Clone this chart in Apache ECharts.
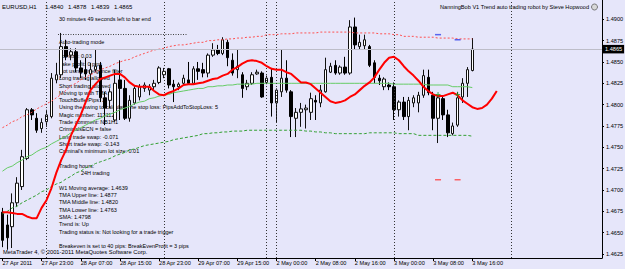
<!DOCTYPE html>
<html><head><meta charset="utf-8">
<script src="https://cdn.jsdelivr.net/npm/echarts@6/dist/echarts.min.js"></script>
<style>html,body{margin:0;padding:0;background:#e6e6fa;}#c{width:625px;height:269px;}</style>
</head><body><div id="c"></div>
<script>
// ---- data ----
const tickLabels = ['27 Apr 2011','27 Apr 23:00','28 Apr 07:00','28 Apr 15:00','28 Apr 23:00','29 Apr 07:00','29 Apr 15:00','2 May 00:00','2 May 08:00','2 May 16:00','3 May 00:00','3 May 08:00','3 May 16:00'];
const barsPerLabel = 8;
const barCount = 123;            // visible bar slots incl. future shift
const separatorBars = [9, 33, 54, 56, 80, 104];
const priceTicks = [1.4625,1.4650,1.4675,1.4700,1.4725,1.4750,1.4775,1.4800,1.4825,1.4850,1.4875,1.4900];
const priceMin = 1.46203, priceMax = 1.49226;
const bidPrice = 1.4865;

const open = [1.4674,1.4659,1.4657,1.4685,1.4704,1.4737,1.4794,1.4784,1.4772,1.4780,
1.4786,1.4829,1.4835,1.4868,1.4858,1.4862,1.4843,1.4841,1.4836,1.4841,
1.4846,1.4808,1.4805,1.4782,1.4829,1.4819,1.4784,1.4802,1.4809,1.4819,
1.4817,1.4821,1.4826,1.4835,1.4842,1.4824,1.4821,1.4825,1.4829,1.4825,
1.4842,1.4841,1.4837,1.4858,1.4864,1.4860,1.4873,1.4852,1.4841,1.4835,
1.4821,1.4825,1.4836,1.4837,1.4826,1.4832,1.4802,1.4815,1.4831,1.4815,
1.4784,1.4791,1.4794,1.4791,1.4805,1.4802,1.4815,1.4838,1.4846,1.4837,
1.4844,1.4837,1.4891,1.4868,1.4869,1.4868,1.4849,1.4831,1.4821,1.4823,
1.4821,1.4794,1.4803,1.4786,1.4802,1.4802,1.4811,1.4832,1.4811,1.4784,
1.4807,1.4788,1.4766,1.4776,1.4809,1.4825,1.4840];
const close = [1.4641,1.4644,1.4685,1.4708,1.4739,1.4794,1.4788,1.4770,1.4779,1.4788,
1.4831,1.4835,1.4868,1.4856,1.4862,1.4843,1.4838,1.4836,1.4841,1.4845,
1.4808,1.4796,1.4815,1.4825,1.4819,1.4784,1.4805,1.4819,1.4821,1.4823,
1.4821,1.4825,1.4843,1.4839,1.4823,1.4821,1.4824,1.4831,1.4825,1.4842,
1.4839,1.4837,1.4858,1.4864,1.4860,1.4876,1.4855,1.4837,1.4845,1.4819,
1.4825,1.4835,1.4838,1.4809,1.4831,1.4802,1.4817,1.4831,1.4817,1.4786,
1.4791,1.4795,1.4796,1.4807,1.4803,1.4817,1.4841,1.4845,1.4837,1.4844,
1.4837,1.4891,1.4870,1.4873,1.4876,1.4846,1.4832,1.4828,1.4830,1.4821,
1.4794,1.4803,1.4786,1.4805,1.4808,1.4811,1.4834,1.4814,1.4784,1.4808,
1.4788,1.4767,1.4775,1.4808,1.4825,1.4841,1.4865];
const high = [1.4679,1.4671,1.4696,1.4715,1.4747,1.4796,1.4796,1.4790,1.4784,1.4794,
1.4837,1.4849,1.4884,1.4876,1.4866,1.4866,1.4852,1.4855,1.4849,1.4864,
1.4850,1.4815,1.4819,1.4841,1.4852,1.4829,1.4811,1.4823,1.4824,1.4826,
1.4824,1.4829,1.4845,1.4843,1.4843,1.4829,1.4826,1.4835,1.4850,1.4845,
1.4850,1.4849,1.4860,1.4872,1.4870,1.4879,1.4876,1.4860,1.4864,1.4838,
1.4829,1.4838,1.4841,1.4839,1.4834,1.4843,1.4819,1.4864,1.4852,1.4817,
1.4796,1.4802,1.4800,1.4814,1.4811,1.4823,1.4855,1.4849,1.4852,1.4846,
1.4856,1.4899,1.4902,1.4882,1.4882,1.4870,1.4852,1.4835,1.4832,1.4826,
1.4826,1.4805,1.4809,1.4809,1.4811,1.4815,1.4841,1.4841,1.4815,1.4811,
1.4811,1.4794,1.4779,1.4815,1.4831,1.4844,1.4878];
const low = [1.4633,1.4630,1.4632,1.4680,1.4700,1.4735,1.4782,1.4767,1.4767,1.4774,
1.4784,1.4825,1.4831,1.4852,1.4852,1.4838,1.4831,1.4829,1.4817,1.4838,
1.4803,1.4776,1.4796,1.4780,1.4782,1.4782,1.4780,1.4800,1.4805,1.4815,
1.4811,1.4817,1.4824,1.4831,1.4819,1.4803,1.4817,1.4822,1.4823,1.4823,
1.4829,1.4832,1.4832,1.4856,1.4858,1.4858,1.4845,1.4834,1.4831,1.4808,
1.4817,1.4823,1.4835,1.4808,1.4824,1.4786,1.4779,1.4809,1.4814,1.4762,
1.4762,1.4774,1.4772,1.4782,1.4782,1.4797,1.4814,1.4837,1.4835,1.4835,
1.4835,1.4835,1.4864,1.4864,1.4864,1.4844,1.4825,1.4823,1.4817,1.4817,
1.4782,1.4786,1.4782,1.4770,1.4797,1.4791,1.4808,1.4811,1.4770,1.4755,
1.4782,1.4762,1.4764,1.4774,1.4802,1.4809,1.4839];

const redLine = [1.4674,1.4674,1.4673,1.4672,1.4672,1.4669,1.4667,1.4667,1.4679,1.4688,
1.4702,1.4720,1.4735,1.4747,1.4764,1.4776,1.4788,1.4803,1.4817,1.4824,
1.4830,1.4832,1.4834,1.4836,1.4836,1.4832,1.4826,1.4822,1.4821,1.4821,
1.4821,1.4816,1.4812,1.4811,1.4814,1.4816,1.4819,1.4823,1.4824,1.4824,
1.4825,1.4826,1.4828,1.4830,1.4831,1.4834,1.4836,1.4841,1.4844,1.4848,
1.4851,1.4852,1.4851,1.4849,1.4845,1.4842,1.4841,1.4841,1.4838,1.4836,
1.4831,1.4826,1.4826,1.4824,1.4819,1.4814,1.4809,1.4804,1.4802,1.4803,
1.4805,1.4809,1.4812,1.4817,1.4822,1.4826,1.4832,1.4841,1.4849,1.4855,
1.4856,1.4852,1.4845,1.4839,1.4834,1.4828,1.4821,1.4816,1.4812,1.4810,
1.4810,1.4812,1.4814,1.4811,1.4805,1.4801,1.4797,1.4795,1.4796,1.4800,
1.4807,1.4816];
const upperBand = [1.4773,1.4776,1.4780,1.4782,1.4786,1.4788,1.4791,1.4795,1.4798,1.4801,
1.4804,1.4808,1.4812,1.4817,1.4822,1.4825,1.4829,1.4832,1.4835,1.4838,
1.4841,1.4843,1.4845,1.4848,1.4850,1.4852,1.4853,1.4856,1.4858,1.4860,
1.4862,1.4864,1.4865,1.4866,1.4868,1.4869,1.4870,1.4870,1.4871,1.4872,
1.4873,1.4873,1.4875,1.4875,1.4876,1.4876,1.4877,1.4877,1.4878,1.4878,
1.4879,1.4879,1.4880,1.4880,1.4882,1.4882,1.4882,1.4883,1.4883,1.4883,
1.4884,1.4884,1.4884,1.4884,1.4884,1.4885,1.4885,1.4885,1.4885,1.4885,
1.4885,1.4885,1.4884,1.4884,1.4884,1.4884,1.4884,1.4883,1.4883,1.4883,
1.4882,1.4882,1.4880,1.4880,1.4880,1.4879,1.4879,1.4879,1.4879,1.4878,
1.4878,1.4878,1.4878,1.4877,1.4877,1.4877,1.4877];
const middleBand = [1.4722,1.4726,1.4728,1.4732,1.4735,1.4739,1.4741,1.4745,1.4748,1.4750,
1.4754,1.4757,1.4760,1.4763,1.4767,1.4770,1.4773,1.4776,1.4779,1.4782,
1.4784,1.4787,1.4789,1.4791,1.4794,1.4796,1.4798,1.4801,1.4803,1.4804,
1.4807,1.4808,1.4810,1.4811,1.4812,1.4814,1.4815,1.4816,1.4817,1.4818,
1.4819,1.4819,1.4821,1.4821,1.4822,1.4822,1.4823,1.4823,1.4824,1.4824,
1.4824,1.4824,1.4825,1.4825,1.4825,1.4825,1.4825,1.4825,1.4825,1.4825,
1.4825,1.4825,1.4825,1.4825,1.4825,1.4825,1.4825,1.4825,1.4825,1.4825,
1.4825,1.4825,1.4825,1.4825,1.4825,1.4825,1.4825,1.4825,1.4825,1.4825,
1.4824,1.4824,1.4824,1.4824,1.4824,1.4824,1.4824,1.4823,1.4823,1.4823,
1.4823,1.4823,1.4821,1.4821,1.4821,1.4821,1.4820];
const lowerBand = [1.4672,1.4675,1.4679,1.4681,1.4685,1.4688,1.4691,1.4694,1.4698,1.4700,
1.4704,1.4707,1.4709,1.4713,1.4716,1.4720,1.4722,1.4726,1.4728,1.4731,
1.4733,1.4735,1.4737,1.4740,1.4742,1.4744,1.4747,1.4748,1.4750,1.4752,
1.4753,1.4754,1.4755,1.4756,1.4757,1.4759,1.4760,1.4761,1.4762,1.4763,
1.4764,1.4766,1.4766,1.4767,1.4767,1.4768,1.4768,1.4769,1.4769,1.4769,
1.4770,1.4770,1.4770,1.4770,1.4770,1.4770,1.4770,1.4770,1.4770,1.4770,
1.4770,1.4770,1.4769,1.4769,1.4768,1.4768,1.4767,1.4767,1.4766,1.4766,
1.4766,1.4766,1.4766,1.4766,1.4766,1.4767,1.4767,1.4767,1.4767,1.4767,
1.4767,1.4766,1.4766,1.4766,1.4766,1.4764,1.4764,1.4764,1.4764,1.4764,
1.4764,1.4764,1.4764,1.4764,1.4764,1.4764,1.4763];

const signalBars = [89, 93];
const greenMarks = [1.4812, 1.4812];
const blueMarks = [1.4882, 1.4876];
const redMarks = [1.4712, 1.4712];

const headerParts = ['EURUSD,H1', '1.4840', '1.4878', '1.4839', '1.4865'];
const timerText = '30 minutes 49 seconds left to bar end';
const robotTitle = 'NanningBob V1 Trend auto trading robot by Steve Hopwood';
const copyrightText = 'MetaTrader 4, \u00a9 2001-2011 MetaQuotes Software Corp.';
const infoLines = ['Auto-trading mode','','Lot size: 0.03','Take profit: 0 pips','Not using divergence filter',
'Long trading allowed','Short trading allowed','Moving tp with TMA','TouchBufferPips: 3',
'Using the swing to calculate the stop loss: PipsAddToStopLoss: 5','Magic number: 112112',
'Trade comment: NB1H1','CriminalsECN = false','Long trade swap: -0.071','Short trade swap: -0.143',
"Criminal's minimum lot size: 0.01",'','Trading hours:','>24H trading','',
'W1 Moving average: 1.4639','TMA Upper line: 1.4877','TMA Middle line: 1.4820','TMA Lower line: 1.4763',
'SMA: 1.4798','Trend is: Up','Trading status is: Not looking for a trade trigger','',
'Breakeven is set to 40 pips: BreakEvenProfit = 3 pips'];

// ---- chart ----
const FONT = '"Liberation Sans", Arial, sans-serif';
const categories = Array.from({length: barCount}, (_, i) => String(i));
const isLabelBar = (i) => i % barsPerLabel === 0 && i / barsPerLabel < tickLabels.length;

function txt(x, y, s, size, align) {
  return {type: 'text', x: x, y: y, silent: true, z: 1,
    style: {text: s, fill: '#000', font: size + 'px ' + FONT,
      align: align || 'left', verticalAlign: 'middle',
      textAlign: align || 'left', textVerticalAlign: 'middle'}};
}
const graphics = [];
const headerX = [2, 45, 68, 91, 114];
headerParts.forEach((p, i) => graphics.push(txt(headerX[i], 7, p, 6)));
graphics.push(txt(59, 19, timerText, 5.5));
graphics.push({type: 'line', silent: true, shape: {x1: 58, y1: 34.5, x2: 187, y2: 34.5},
  style: {stroke: '#444', lineWidth: 1, lineDash: [1, 1.5]}});
infoLines.forEach((s, i) => {
  if (!s) return;
  let x = 59;
  if (s[0] === '>') { x = 81; s = s.slice(1); }
  graphics.push(txt(x, 41.7 + i * 7.3, s, 5.5));
});
graphics.push(txt(589, 7, robotTitle, 5.6, 'right'));
graphics.push({type: 'circle', silent: true, shape: {cx: 594.5, cy: 7, r: 3},
  style: {fill: '#d8d8d8', stroke: '#777', lineWidth: 1}});
graphics.push(txt(3, 252, copyrightText, 5.8));

const chart = echarts.init(document.getElementById('c'), null, {renderer: 'svg'});
chart.setOption({
  animation: false,
  backgroundColor: '#e6e6fa',
  grid: {left: 0, right: 23, top: 0, bottom: 11, containLabel: false, outerBoundsMode: 'none'},
  xAxis: {
    type: 'category', data: categories, boundaryGap: true,
    axisLine: {show: true, lineStyle: {color: '#000', width: 1}},
    axisTick: {show: true, alignWithLabel: true, length: 3, interval: (i) => isLabelBar(i), lineStyle: {color: '#000'}},
    axisLabel: {show: true, interval: (i) => isLabelBar(i), align: 'left', margin: 2, color: '#000',
      fontSize: 5.6, fontFamily: FONT,
      formatter: (v, i) => isLabelBar(i) ? tickLabels[i / barsPerLabel] : ''},
    splitLine: {show: false}
  },
  yAxis: {
    type: 'value', position: 'right', min: priceMin, max: priceMax, scale: true,
    axisLine: {show: true, lineStyle: {color: '#000', width: 1}},
    axisTick: {show: true, length: 2, customValues: priceTicks, lineStyle: {color: '#000'}},
    axisLabel: {show: true, customValues: priceTicks, margin: 4, color: '#000', fontSize: 5.6,
      fontFamily: FONT, formatter: (v) => v.toFixed(4)},
    splitLine: {show: false}
  },
  graphic: graphics,
  series: [
    {
      type: 'candlestick', barWidth: 3, z: 3,
      data: open.map((o, i) => [o, close[i], low[i], high[i]]),
      itemStyle: {color: '#ffffff', color0: '#000000', borderColor: '#111', borderColor0: '#000', borderWidth: 1},
      markLine: {
        silent: true, symbol: ['none', 'none'], animation: false, precision: 6,
        label: {show: false},
        data: separatorBars.map(b => ({xAxis: b, lineStyle: {color: '#333', type: [1, 2], width: 1}}))
          .concat([{yAxis: bidPrice, lineStyle: {color: '#bdbdc8', type: 'solid', width: 1},
            label: {show: true, position: 'end', distance: 1, formatter: bidPrice.toFixed(4),
              color: '#fff', backgroundColor: '#000', padding: [1.5, 2, 1, 2], fontSize: 5.6, fontFamily: FONT}}])
      }
    },
    {type: 'line', data: upperBand, symbol: 'none', z: 4,
      lineStyle: {color: '#ff5050', width: 1, type: [2, 2]}},
    {type: 'line', data: middleBand, symbol: 'none', z: 4,
      lineStyle: {color: '#66cc66', width: 1}},
    {type: 'line', data: lowerBand, symbol: 'none', z: 4,
      lineStyle: {color: '#33a033', width: 1, type: [3, 2]}},
    {type: 'line', data: redLine, symbol: 'none', z: 5,
      lineStyle: {color: '#ff0000', width: 2}},
    {type: 'scatter', z: 6, symbol: 'path://M2,0H3V2H5V3H3V5H2V3H0V2H2Z', symbolSize: 5,
      itemStyle: {color: '#1a9a1a'}, data: signalBars.map((b, i) => [b, greenMarks[i]])},
    {type: 'scatter', z: 6, symbol: 'rect', symbolSize: [6, 1.5],
      itemStyle: {color: '#3344ee'}, data: signalBars.map((b, i) => [b, blueMarks[i]])},
    {type: 'scatter', z: 6, symbol: 'rect', symbolSize: [6, 1.5],
      itemStyle: {color: '#ff4040'}, data: signalBars.map((b, i) => [b, redMarks[i]])}
  ]
});
</script></body></html>
